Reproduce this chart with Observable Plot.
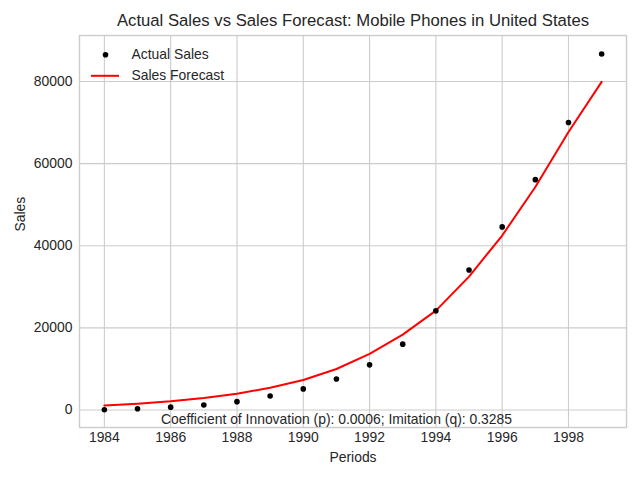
<!DOCTYPE html>
<html>
<head>
<meta charset="utf-8">
<script src="https://cdn.jsdelivr.net/npm/d3@7"></script>
<script src="https://cdn.jsdelivr.net/npm/@observablehq/plot@0.6"></script>
<style>
  html, body { margin: 0; padding: 0; background: #fff; }
  #chart { width: 640px; height: 480px; }
</style>
</head>
<body>
<div id="chart"></div>
<script>
// Mobile phone sales in the United States, by year
const years = [1984, 1985, 1986, 1987, 1988, 1989, 1990, 1991, 1992, 1993, 1994, 1995, 1996, 1997, 1998, 1999];
const actualSales = [90, 300, 700, 1220, 2050, 3420, 5150, 7560, 11000, 16050, 24150, 34100, 44600, 56100, 70000, 86700];
const salesForecast = [1120, 1560, 2150, 2930, 3980, 5420, 7320, 10000, 13660, 18370, 24200, 32500, 42500, 54300, 67700, 79900];

const xTicks = [1984, 1986, 1988, 1990, 1992, 1994, 1996, 1998];
const yTicks = [0, 20000, 40000, 60000, 80000];

const titleText = "Actual Sales vs Sales Forecast: Mobile Phones in United States";
const xLabel = "Periods";
const yLabel = "Sales";
const legendLabels = ["Actual Sales", "Sales Forecast"];
const note = "Coefficient of Innovation (p): 0.0006; Imitation (q): 0.3285";

const rows = years.map((year, i) => ({year, actual: actualSales[i], forecast: salesForecast[i]}));

const ink = "#262626";
const gridColor = "#cccccc";
const fontSize = 13.9;

// Short horizontal stroke used as the legend key for the forecast line
const dashSymbol = {
  draw(context) {
    context.moveTo(-14, 0);
    context.lineTo(14, 0);
  }
};

const chart = Plot.plot({
  width: 640,
  height: 480,
  marginLeft: 79,
  marginRight: 14,
  marginTop: 35,
  marginBottom: 53,
  style: {fontFamily: "'Liberation Sans', Arial, sans-serif", fontSize: `${fontSize}px`, color: ink, background: "#fff"},
  x: {domain: [1983.25, 1999.75]},
  y: {domain: [-4250, 91200]},
  marks: [
    Plot.gridX(xTicks, {stroke: gridColor, strokeOpacity: 1, strokeWidth: 1.1}),
    Plot.gridY(yTicks, {stroke: gridColor, strokeOpacity: 1, strokeWidth: 1.1}),
    Plot.frame({stroke: gridColor, strokeWidth: 1.4}),
    Plot.axisX(xTicks, {tickSize: 0, tickPadding: 5, tickFormat: "d", label: null, fontSize}),
    Plot.axisY(yTicks, {tickSize: 0, tickPadding: 7, tickFormat: "d", label: null, fontSize}),
    Plot.line(rows, {x: "year", y: "forecast", stroke: "#ff0000", strokeWidth: 2}),
    Plot.dot(rows, {x: "year", y: "actual", r: 2.8, fill: "#000000", stroke: "none"}),
    // Fit parameters, written just above the bottom of the frame
    Plot.text([note], {x: () => 1991, y: () => -2300, text: d => d, fontSize, fill: ink, lineAnchor: "middle"}),
    // Title and axis labels
    Plot.text([titleText], {frameAnchor: "top", dy: -14.5, text: d => d, fontSize: 16.7, fill: ink, lineAnchor: "middle"}),
    Plot.text([xLabel], {frameAnchor: "bottom", dy: 30.5, text: d => d, fontSize, fill: ink, lineAnchor: "middle"}),
    Plot.text([yLabel], {frameAnchor: "left", dx: -59, text: d => d, fontSize, fill: ink, rotate: -90, lineAnchor: "middle"}),
    // Legend in the upper left of the frame
    Plot.dot([legendLabels[0]], {frameAnchor: "top-left", dx: 26, dy: 19.3, r: 2.8, fill: "#000000", stroke: "none"}),
    Plot.dot([legendLabels[1]], {frameAnchor: "top-left", dx: 25.5, dy: 40.3, symbol: dashSymbol, stroke: "#ff0000", strokeWidth: 2, fill: "none"}),
    Plot.text([legendLabels[0]], {frameAnchor: "top-left", dx: 52, dy: 19.3, text: d => d, textAnchor: "start", lineAnchor: "middle", fontSize, fill: ink}),
    Plot.text([legendLabels[1]], {frameAnchor: "top-left", dx: 52, dy: 39.9, text: d => d, textAnchor: "start", lineAnchor: "middle", fontSize, fill: ink})
  ]
});

document.getElementById("chart").appendChild(chart);
</script>
</body>
</html>
